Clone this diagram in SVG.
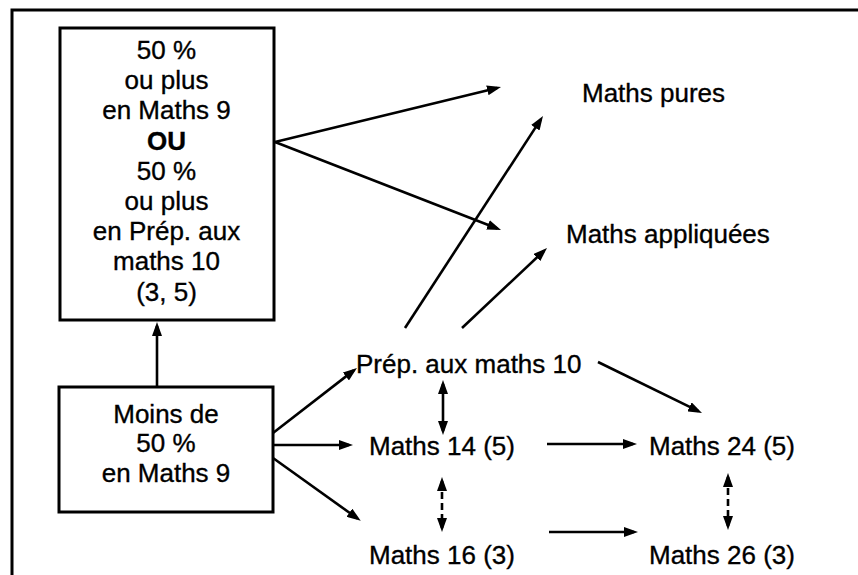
<svg xmlns="http://www.w3.org/2000/svg" width="858" height="575" viewBox="0 0 858 575">
<style>
  .t { font-family: "Liberation Sans", Arial, Helvetica, sans-serif; font-size: 26px; fill: #000; stroke: #000; stroke-width: 0.35; }
  .c { text-anchor: middle; }
  .b { font-weight: bold; }
  .box { fill: #fff; stroke: #000; stroke-width: 3; }
  .frame { fill: none; stroke: #000; stroke-width: 3; }
  .a { fill: none; stroke: #000; stroke-width: 2.6; marker-end: url(#ah); }
  .d { fill: none; stroke: #000; stroke-width: 2.6; marker-start: url(#ah); marker-end: url(#ah); }
  .dash { stroke-dasharray: 7 4; }
</style>
<defs>
  <marker id="ah" markerUnits="userSpaceOnUse" markerWidth="14" markerHeight="10" refX="10" refY="5" orient="auto-start-reverse">
    <path d="M0,0 L14,5 L0,10 z" fill="#000"/>
  </marker>
</defs>
<rect width="858" height="575" fill="#fff"/>
<path class="frame" d="M12,575 L12,10 L858,10"/>

<g id="node-box1">
  <rect class="box" x="60" y="28" width="214" height="292"/>
  <text class="t c" x="166.5" y="59">50 %</text>
  <text class="t c" x="166.5" y="89">ou plus</text>
  <text class="t c" x="166.5" y="119">en Maths 9</text>
  <text class="t c b" x="166.5" y="150">OU</text>
  <text class="t c" x="166.5" y="180">50 %</text>
  <text class="t c" x="166.5" y="210">ou plus</text>
  <text class="t c" x="166.5" y="240">en Prép. aux</text>
  <text class="t c" x="166.5" y="270">maths 10</text>
  <text class="t c" x="166.5" y="301">(3, 5)</text>
</g>
<g id="node-box2">
  <rect class="box" x="59" y="387" width="214" height="125"/>
  <text class="t c" x="166" y="423">Moins de</text>
  <text class="t c" x="166" y="452">50 %</text>
  <text class="t c" x="166" y="482">en Maths 9</text>
</g>
<g id="node-pures"><text class="t" x="582" y="102">Maths pures</text></g>
<g id="node-appliquees"><text class="t" x="566" y="243">Maths appliquées</text></g>
<g id="node-prep10"><text class="t" x="356" y="373">Prép. aux maths 10</text></g>
<g id="node-m14"><text class="t" x="369" y="455">Maths 14 (5)</text></g>
<g id="node-m24"><text class="t" x="649" y="455">Maths 24 (5)</text></g>
<g id="node-m16"><text class="t" x="369" y="564">Maths 16 (3)</text></g>
<g id="node-m26"><text class="t" x="649" y="564">Maths 26 (3)</text></g>

<g id="connectors">
  <line class="a" x1="275" y1="142" x2="497.1" y2="88"/>
  <line class="a" x1="275" y1="142" x2="497.3" y2="228.5"/>
  <line class="a" x1="405" y1="328" x2="540.8" y2="119.4"/>
  <line class="a" x1="462" y1="328" x2="544.1" y2="250.7"/>
  <line class="a" x1="157" y1="387" x2="157" y2="326"/>
  <line class="a" x1="273" y1="433" x2="353.8" y2="370.4"/>
  <line class="a" x1="273" y1="445" x2="349" y2="445"/>
  <line class="a" x1="273" y1="458" x2="357.5" y2="518.5"/>
  <line class="a" x1="598" y1="362" x2="698.4" y2="411.2"/>
  <line class="a" x1="547" y1="444" x2="633" y2="444"/>
  <line class="a" x1="549" y1="532" x2="634" y2="532"/>
  <line class="d" x1="443" y1="384" x2="443" y2="431"/>
  <line class="d dash" x1="442" y1="481" x2="442" y2="528"/>
  <line class="d dash" x1="728" y1="477" x2="728" y2="526"/>
</g>
</svg>
